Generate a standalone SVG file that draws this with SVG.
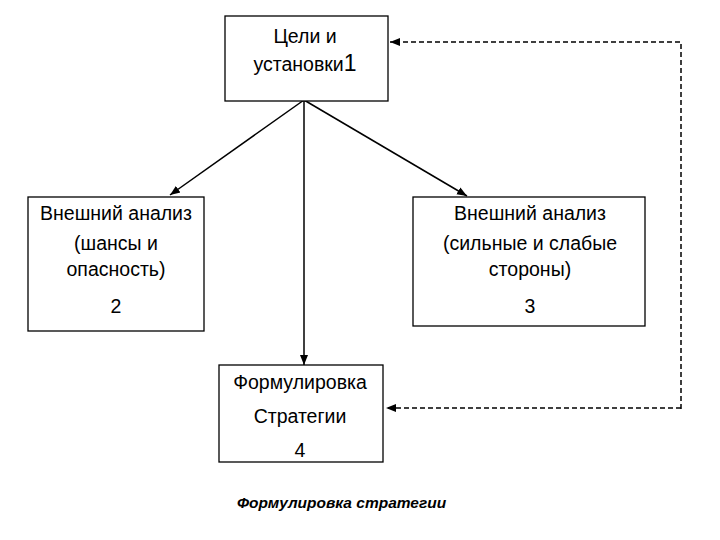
<svg xmlns="http://www.w3.org/2000/svg" width="720" height="540" viewBox="0 0 720 540">
<style>
.box{fill:#fff;stroke:#000;stroke-width:1.3}
.t{font-family:"Liberation Sans",Arial,sans-serif;font-size:19.5px;fill:#000;text-anchor:middle}
.ln{stroke:#000;stroke-width:1.5;fill:none}
.dash{stroke:#000;stroke-width:1.5;fill:none;stroke-dasharray:5,3}
.cap{font-family:"Liberation Sans",Arial,sans-serif;font-size:15.5px;font-weight:bold;font-style:italic;fill:#000}
</style>
<defs>
<marker id="ah" viewBox="0 0 10 10" refX="10" refY="5" markerWidth="10" markerHeight="10" markerUnits="userSpaceOnUse" orient="auto">
<path d="M0,1 L10,5 L0,9 z" fill="#000"/>
</marker>
</defs>
<rect width="720" height="540" fill="#fff"/>
<g id="connectors">
<line class="ln" x1="304" y1="100" x2="170" y2="195" marker-end="url(#ah)"/>
<line class="ln" x1="304" y1="100" x2="467" y2="196" marker-end="url(#ah)"/>
<line class="ln" x1="304" y1="100" x2="304" y2="365" marker-end="url(#ah)"/>
<polyline class="dash" points="681,409 681,42 390,42" marker-end="url(#ah)"/>
<line class="dash" x1="681" y1="408" x2="386" y2="408" marker-end="url(#ah)"/>
</g>
<g id="node1">
<rect class="box" x="225" y="16" width="163" height="85"/>
<text class="t" x="305" y="43">Цели и</text>
<text class="t" x="305" y="71">установки<tspan font-size="23">1</tspan></text>
</g>
<g id="node2">
<rect class="box" x="28" y="197" width="176" height="134"/>
<text class="t" x="116" y="220">Внешний анализ</text>
<text class="t" x="116" y="250">(шансы и</text>
<text class="t" x="116" y="276">опасность)</text>
<text class="t" x="116" y="313">2</text>
</g>
<g id="node3">
<rect class="box" x="413" y="197" width="232" height="129"/>
<text class="t" x="530" y="220">Внешний анализ</text>
<text class="t" x="530" y="250">(сильные и слабые</text>
<text class="t" x="530" y="276">стороны)</text>
<text class="t" x="530" y="313">3</text>
</g>
<g id="node4">
<rect class="box" x="219" y="365" width="164" height="97"/>
<text class="t" x="300" y="389">Формулировка</text>
<text class="t" x="300" y="423">Стратегии</text>
<text class="t" x="300" y="457">4</text>
</g>
<text class="cap" x="237" y="508">Формулировка стратегии</text>
</svg>
